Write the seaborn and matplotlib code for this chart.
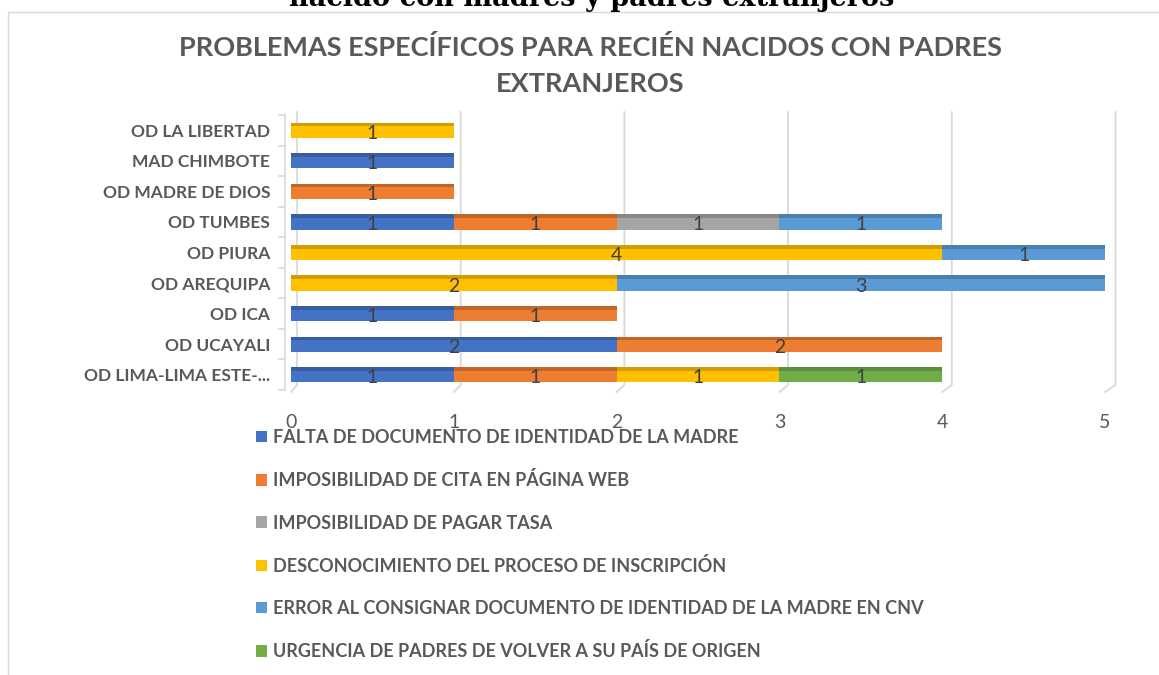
import numpy as np
import matplotlib
matplotlib.use("Agg")
import matplotlib.pyplot as plt
import matplotlib.colors as mcolors
import seaborn as sns
from matplotlib.patches import Patch, Rectangle

# --- DATOS ---
oficinas = ["OD LA LIBERTAD", "MAD CHIMBOTE", "OD MADRE DE DIOS", "OD TUMBES", "OD PIURA",
            "OD AREQUIPA", "OD ICA", "OD UCAYALI", "OD LIMA-LIMA ESTE-..."]
series = ["FALTA DE DOCUMENTO DE IDENTIDAD DE LA MADRE",
          "IMPOSIBILIDAD DE CITA EN PÁGINA WEB",
          "IMPOSIBILIDAD DE PAGAR TASA",
          "DESCONOCIMIENTO DEL PROCESO DE INSCRIPCIÓN",
          "ERROR AL CONSIGNAR DOCUMENTO DE IDENTIDAD DE LA MADRE EN CNV",
          "URGENCIA DE PADRES DE VOLVER A SU PAÍS DE ORIGEN"]
falta_doc = [0, 1, 0, 1, 0, 0, 1, 2, 1]
cita_web = [0, 0, 1, 1, 0, 0, 1, 2, 1]
pagar_tasa = [0, 0, 0, 1, 0, 0, 0, 0, 0]
desconocimiento = [1, 0, 0, 0, 4, 2, 0, 0, 1]
error_cnv = [0, 0, 0, 1, 1, 3, 0, 0, 0]
urgencia = [0, 0, 0, 0, 0, 0, 0, 0, 1]
ticks_x = [0, 1, 2, 3, 4, 5]

colores = ["#4472C4", "#ED7D31", "#A5A5A5", "#FFC000", "#5B9BD5", "#70AD47"]
GRIS = "#595959"
GRID = "#D9D9D9"

sns.set_theme(style="white")
plt.rcParams['font.family'] = ['Lato', 'DejaVu Sans']

W, H = 1159, 675
fig = plt.figure(figsize=(W / 100, H / 100), dpi=100)
ax = fig.add_axes([291 / W, 1 - 390 / H, (1105 - 291) / W, (390 - 115) / H])
ax.set_xlim(0, 5)
ax.set_ylim(8.6, -0.6)

valores = np.array([falta_doc, cita_web, pagar_tasa, desconocimiento, error_cnv, urgencia])
acum = np.cumsum(valores, axis=0)

# rejilla con efecto 3D (desplazada hacia la pared del fondo)
px_x = (1105 - 291) / 5          # pixeles por unidad en x
px_y = (390 - 115) / 9.2         # pixeles por categoria
y_fondo = -0.6 + (382 - 115) / px_y
for t in ticks_x:
    dx = (6 + 0.9 * t) / px_x
    ax.plot([t + dx, t + dx, t], [-0.6, y_fondo, y_fondo + 7 / px_y], color=GRID, lw=1.3,
            zorder=0, clip_on=False, solid_joinstyle='miter')

# barras apiladas: se dibuja el acumulado de atrás hacia adelante
for i in reversed(range(len(series))):
    n_antes = len(ax.patches)
    sns.barplot(x=acum[i], y=oficinas, orient='h', color=colores[i], width=0.5,
                saturation=1, linewidth=0, ax=ax)
    oscuro = np.array(mcolors.to_rgb(colores[i])) * 0.82
    for p in ax.patches[n_antes:]:
        if p.get_width() > 0:
            ax.add_patch(Rectangle((p.get_x(), p.get_y()), p.get_width(), 0.12,
                                   facecolor=oscuro, edgecolor='none', linewidth=0,
                                   zorder=p.get_zorder()))

# etiquetas de datos
for i in range(len(series)):
    for j, v in enumerate(valores[i]):
        if v > 0:
            ax.text(acum[i][j] - v / 2, j + 0.1, str(v), ha='center', va='center',
                    fontsize=14, color='#404040', zorder=5)

ax.set_xticks(ticks_x)
ax.set_yticks(np.arange(-0.5, len(oficinas), 1), minor=True)
ax.set_xlabel('')
ax.set_ylabel('')
ax.grid(False)
sns.despine(ax=ax, left=False, bottom=True)
ax.spines['left'].set_color(GRID)
ax.spines['left'].set_linewidth(1.2)
ax.spines['left'].set_position(('outward', 4))
ax.tick_params(axis='x', length=0, pad=17.5, labelsize=14, labelcolor=GRIS)
ax.tick_params(axis='y', which='major', length=0, pad=11, labelsize=12.5, labelcolor=GRIS)
ax.tick_params(axis='y', which='minor', length=5, width=1.2, color=GRID, left=True)
for lbl in ax.get_yticklabels():
    lbl.set_fontweight('bold')

# títulos
fig.text(592 / W, 1 - 6 / H, "nacido con madres y padres extranjeros", ha='center', va='baseline',
         fontsize=19.5, fontweight='bold', family='DejaVu Serif', color='black')
fig.text(590 / W, 1 - 48 / H, "PROBLEMAS ESPECÍFICOS PARA RECIÉN NACIDOS CON PADRES",
         ha='center', va='center', fontsize=19.5, fontweight='bold', color=GRIS)
fig.text(590 / W, 1 - 84 / H, "EXTRANJEROS",
         ha='center', va='center', fontsize=19.5, fontweight='bold', color=GRIS)

# leyenda
handles = [Patch(facecolor=c, edgecolor='none') for c in colores]
fig.legend(handles, series, loc='upper left', bbox_to_anchor=(256 / W, 1 - 429 / H),
           frameon=False, prop={'weight': 'bold', 'size': 13}, labelcolor=GRIS,
           handlelength=0.6, handleheight=0.6, handletextpad=0.33, labelspacing=1.4,
           borderaxespad=0, borderpad=0)

# marco del gráfico
fig.patches.append(Rectangle((8 / W, -0.01), 1.0, 1 - 12 / H + 0.01, transform=fig.transFigure,
                             fill=False, edgecolor=GRID, lw=1))

fig.savefig('out.png', dpi=100)
